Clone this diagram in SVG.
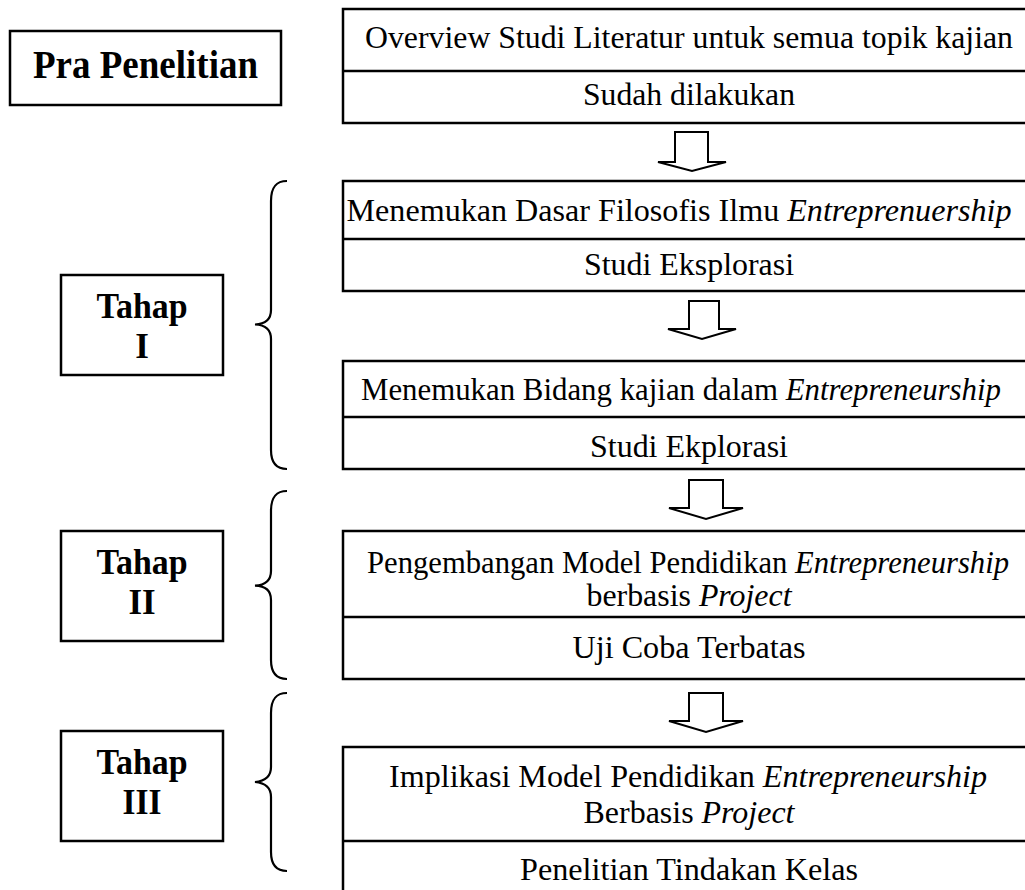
<svg xmlns="http://www.w3.org/2000/svg" width="1025" height="890" viewBox="0 0 1025 890">
<style>
.box{fill:#fff;stroke:#000;stroke-width:2.5}
.div{stroke:#000;stroke-width:2.5}
.brace{fill:none;stroke:#000;stroke-width:2.2}
.arr{fill:#fff;stroke:#000;stroke-width:2;stroke-linejoin:miter}
.t{font-family:"Liberation Serif","Times New Roman",serif;font-size:32px;fill:#000;text-anchor:middle}
.b{font-family:"Liberation Serif","Times New Roman",serif;font-size:35px;font-weight:bold;fill:#000;text-anchor:middle}
.i{font-style:italic}
</style>
<rect width="1025" height="890" fill="#fff"/>

<g id="pra">
<rect class="box" x="10" y="31" width="271" height="74"/>
<text class="b" x="145.5" y="78" style="font-size:39px" textLength="225" lengthAdjust="spacingAndGlyphs">Pra Penelitian</text>
</g>

<g id="tahap1">
<rect class="box" x="61" y="275" width="162" height="100"/>
<text class="b" x="142" y="318" textLength="91" lengthAdjust="spacingAndGlyphs">Tahap</text>
<text class="b" x="142" y="358">I</text>
</g>
<g id="tahap2">
<rect class="box" x="61" y="531" width="162" height="110"/>
<text class="b" x="142" y="574" textLength="91" lengthAdjust="spacingAndGlyphs">Tahap</text>
<text class="b" x="142" y="614">II</text>
</g>
<g id="tahap3">
<rect class="box" x="61" y="731" width="162" height="110"/>
<text class="b" x="142" y="774" textLength="91" lengthAdjust="spacingAndGlyphs">Tahap</text>
<text class="b" x="142" y="814" textLength="39" lengthAdjust="spacingAndGlyphs">III</text>
</g>

<g id="brace1"><path class="brace" d="M287 181 C276 181 271 187 271 201 L271 310 C271 319 266 324 255 324.5 C266 325 271 330 271 339 L271 450 C271 463 276 469 287 469"/></g>
<g id="brace2"><path class="brace" d="M287 491 C276 491 271 497 271 511 L271 571 C271 580 266 585 255 585.7 C266 586 271 591 271 600 L271 660 C271 673 276 679 287 679"/></g>
<g id="brace3"><path class="brace" d="M287 693 C276 693 271 699 271 713 L271 767 C271 776 266 781 255 782 C266 783 271 788 271 797 L271 852 C271 865 276 871 287 871"/></g>

<g id="step0">
<rect class="box" x="343" y="9" width="690" height="114"/>
<line class="div" x1="343" y1="71" x2="1033" y2="71"/>
<text class="t" x="689" y="48" textLength="648" lengthAdjust="spacingAndGlyphs">Overview Studi Literatur untuk semua topik kajian</text>
<text class="t" x="689" y="105" textLength="212" lengthAdjust="spacingAndGlyphs">Sudah dilakukan</text>
</g>

<g id="step1">
<rect class="box" x="343" y="181" width="690" height="110"/>
<line class="div" x1="343" y1="239" x2="1033" y2="239"/>
<text class="t" x="679" y="221" textLength="665" lengthAdjust="spacingAndGlyphs">Menemukan Dasar Filosofis Ilmu <tspan class="i">Entreprenuership</tspan></text>
<text class="t" x="689" y="275" textLength="210" lengthAdjust="spacingAndGlyphs">Studi Eksplorasi</text>
</g>

<g id="step2">
<rect class="box" x="343" y="361" width="690" height="108"/>
<line class="div" x1="343" y1="417" x2="1033" y2="417"/>
<text class="t" x="681" y="400" textLength="640" lengthAdjust="spacingAndGlyphs">Menemukan Bidang kajian dalam <tspan class="i">Entrepreneurship</tspan></text>
<text class="t" x="689" y="457" textLength="198" lengthAdjust="spacingAndGlyphs">Studi Ekplorasi</text>
</g>

<g id="step3">
<rect class="box" x="343" y="531" width="690" height="148"/>
<line class="div" x1="343" y1="617" x2="1033" y2="617"/>
<text class="t" x="688" y="573" textLength="642" lengthAdjust="spacingAndGlyphs">Pengembangan Model Pendidikan <tspan class="i">Entrepreneurship</tspan></text>
<text class="t" x="689" y="606" textLength="205" lengthAdjust="spacingAndGlyphs">berbasis <tspan class="i">Project</tspan></text>
<text class="t" x="689" y="658" textLength="233" lengthAdjust="spacingAndGlyphs">Uji Coba Terbatas</text>
</g>

<g id="step4">
<rect class="box" x="343" y="747" width="690" height="160"/>
<line class="div" x1="343" y1="841" x2="1033" y2="841"/>
<text class="t" x="688" y="787" textLength="598" lengthAdjust="spacingAndGlyphs">Implikasi Model Pendidikan <tspan class="i">Entrepreneurship</tspan></text>
<text class="t" x="689" y="823" textLength="211" lengthAdjust="spacingAndGlyphs">Berbasis <tspan class="i">Project</tspan></text>
<text class="t" x="689" y="880" textLength="338" lengthAdjust="spacingAndGlyphs">Penelitian Tindakan Kelas</text>
</g>

<g id="connectors">
<path class="arr" d="M675 132 L708 132 L708 162 L726 162 L692 171 L658 162 L675 162 Z"/>
<path class="arr" d="M689 301 L719 301 L719 329 L736 329 L702 339 L668 329 L689 329 Z"/>
<path class="arr" d="M689 480 L723 480 L723 508 L743 508 L706 519 L669 508 L689 508 Z"/>
<path class="arr" d="M689 693 L723 693 L723 721 L743 721 L706 732 L669 721 L689 721 Z"/>
</g>
</svg>
